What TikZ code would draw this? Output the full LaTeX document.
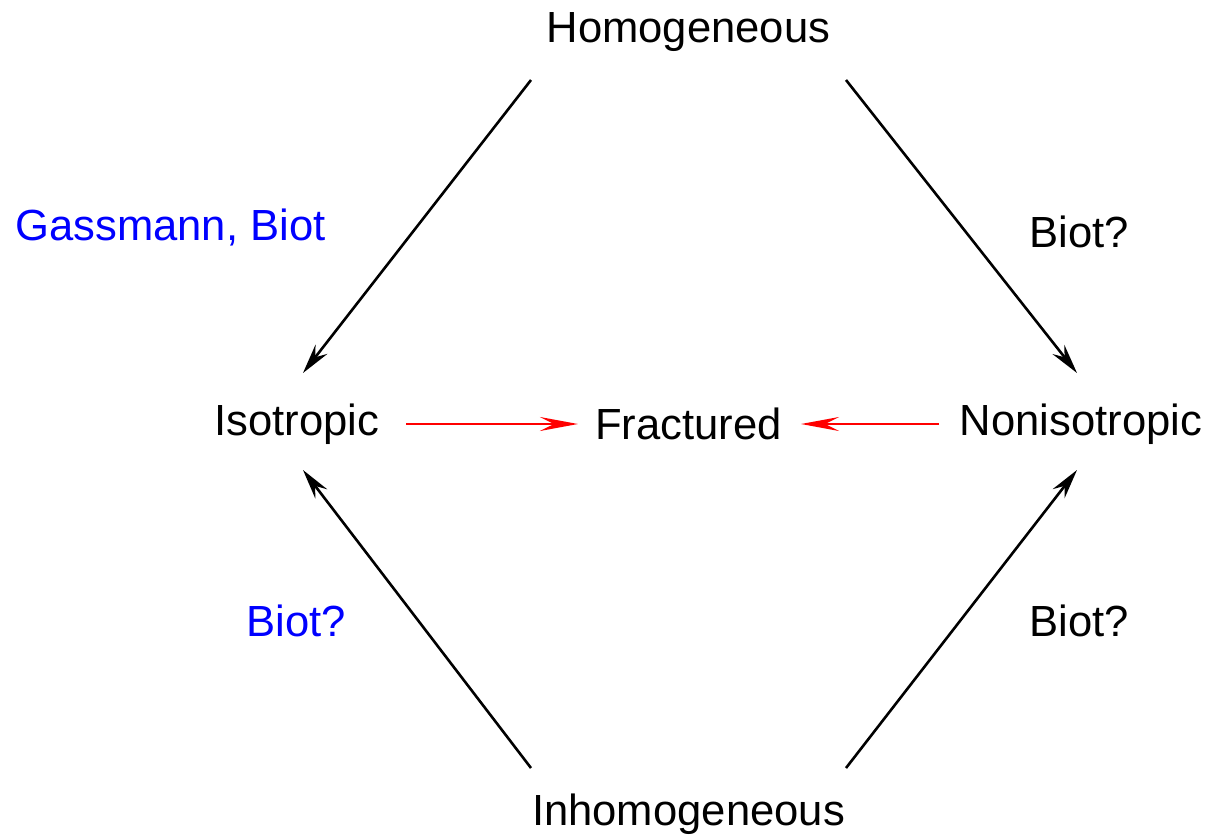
\documentclass[tikz,border=0pt]{standalone}
\usepackage{fontspec}
\setmainfont{Liberation Sans}
\usetikzlibrary{positioning,arrows.meta,calc}

\tikzset{
  lbl/.style={anchor=base,inner sep=0pt,font=\fontsize{21.8}{26}\selectfont},
  arr/.style={line width=1.3pt,-{Stealth[length=15pt,width=7.5pt,inset=5pt]}},
  redarr/.style={line width=1.3pt,red,-{Stealth[length=19pt,width=7pt,inset=7pt]}}
}

\begin{document}
\begin{tikzpicture}[x=0.5pt,y=-0.5pt]
  \useasboundingbox (0,0) rectangle (1211,836);

  \node[lbl] (homo) at (688.5,42) {Homogeneous};
  \node[lbl] (iso) at (297,435) {Isotropic};
  \node[lbl] (frac) at (688.5,439) {Fractured};
  \node[lbl] (noniso) at (1081,435) {Nonisotropic};
  \node[lbl] (inhomo) at (688.5,825) {Inhomogeneous};

  \node[lbl,blue] (gass) at (170.5,240) {Gassmann, Biot};
  \node[lbl] (biottr) at (1079,247) {Biot?};
  \node[lbl,blue] (biotbl) at (296,636) {Biot?};
  \node[lbl] (biotbr) at (1079,636) {Biot?};

  \draw[arr] ($(homo.base)+(-157.5,38)$) -- ($(iso.base)+(6,-62)$);
  \draw[arr] ($(homo.base)+(157.5,38)$) -- ($(noniso.base)+(-4,-62)$);
  \draw[arr] ($(inhomo.base)+(-157.5,-57)$) -- ($(iso.base)+(6,35)$);
  \draw[arr] ($(inhomo.base)+(157.5,-57)$) -- ($(noniso.base)+(-4,35)$);

  \draw[redarr] ($(iso.base)+(109,-11)$) -- ($(frac.base)+(-110.5,-15)$);
  \draw[redarr] ($(noniso.base)+(-142,-11)$) -- ($(frac.base)+(112.5,-15)$);
\end{tikzpicture}
\end{document}
